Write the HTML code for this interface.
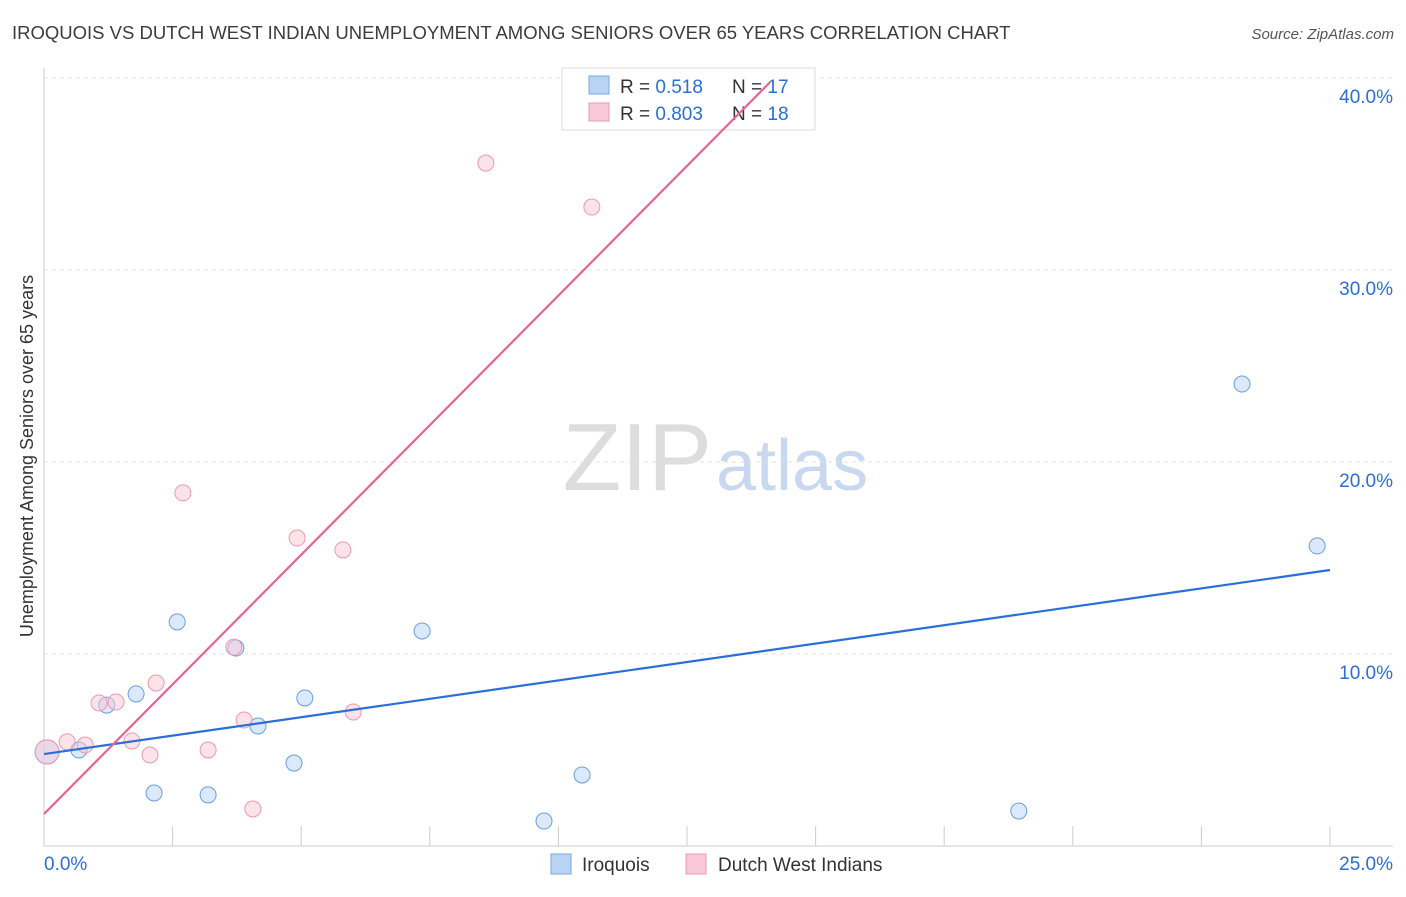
<!DOCTYPE html>
<html><head><meta charset="utf-8"><style>
body{margin:0;background:#fff;font-family:"Liberation Sans",sans-serif;}
svg text{font-family:"Liberation Sans",sans-serif;}
</style></head><body>
<svg id="c" width="1406" height="892">
<text x="12" y="39" font-size="18.5" fill="#3c3c3c">IROQUOIS VS DUTCH WEST INDIAN UNEMPLOYMENT AMONG SENIORS OVER 65 YEARS CORRELATION CHART</text>
<text x="1394" y="39" font-size="15" fill="#555" font-style="italic" text-anchor="end">Source: ZipAtlas.com</text>
<text x="712" y="490" font-size="96" fill="#ddd" text-anchor="end" font-family="Liberation Serif">ZIP</text>
<text x="716" y="490" font-size="72" fill="#c8d8f0">atlas</text>
<text transform="translate(33,456) rotate(-90)" font-size="18" fill="#333" text-anchor="middle">Unemployment Among Seniors over 65 years</text>
<g id="grid"></g>
<g>
<rect x="562" y="68" width="253" height="62" fill="#fff" stroke="#ddd"/>
<rect x="589" y="76" width="20" height="18" fill="#b8d4f5" stroke="#7aa8e0"/>
<rect x="589" y="103" width="20" height="18" fill="#f9c8d6" stroke="#ec98b0"/>
<text x="620" y="93" font-size="19" fill="#333">R = <tspan fill="#2a6fd6"> 0.518</tspan><tspan x="732">N = </tspan><tspan fill="#2a6fd6">17</tspan></text>
<text x="620" y="120" font-size="19" fill="#333">R = <tspan fill="#2a6fd6">0.803</tspan><tspan x="732">N = </tspan><tspan fill="#2a6fd6">18</tspan></text>
</g>
<g id="marks"></g>
<g>
<rect x="551" y="854" width="20" height="20" fill="#b8d4f5" stroke="#7aa8e0"/>
<text x="582" y="871" font-size="19" fill="#333">Iroquois</text>
<rect x="686" y="854" width="20" height="20" fill="#f9c8d6" stroke="#ec98b0"/>
<text x="718" y="871" font-size="19" fill="#333">Dutch West Indians</text>
</g>
</svg>
<script>
const yTicks=[10,20,30,40];
const yTickLabels=["10.0%","20.0%","30.0%","40.0%"];
const xTickLabels=["0.0%","25.0%"];
const iroX=[0.06,0.68,1.22,1.79,2.14,2.59,3.19,3.73,4.16,4.86,5.07,7.35,9.72,10.46,18.95,23.29,24.75];
const iroY=[4.9,5.0,7.34,7.92,2.76,11.67,2.66,10.31,6.25,4.32,7.71,11.2,1.30,3.70,1.82,24.06,15.63];
const dutX=[0.06,0.45,0.80,1.07,1.40,1.71,2.06,2.18,2.70,3.19,3.69,3.89,4.06,4.92,5.81,6.01,8.59,10.65];
const dutY=[4.9,5.42,5.26,7.45,7.5,5.47,4.74,8.49,18.39,5.0,10.36,6.56,1.93,16.04,15.42,6.98,35.57,33.28];
const iroLine=[4.79,14.375];
const dutLine=[1.67,2.70];
const X=v=>44+v*51.44, Y=v=>846-v*19.2;
const NS="http://www.w3.org/2000/svg";
function mk(t,a,p){const e=document.createElementNS(NS,t);for(const k in a)e.setAttribute(k,a[k]);p.appendChild(e);return e;}
const g=document.getElementById('grid'),m=document.getElementById('marks');
yTicks.forEach((t,i)=>{
const l=mk('line',{x1:44,x2:1393,y1:Y(t),y2:Y(t),stroke:'#e2e2e2','stroke-dasharray':'4,4'},g);


const tx=mk('text',{x:1393,y:Y(t)+25,'font-size':19,fill:'#2a6fd6','text-anchor':'end'},g);tx.textContent=yTickLabels[i];


});
mk('line',{x1:44,x2:44,y1:68,y2:846,stroke:'#ccc'},g);
mk('line',{x1:44,x2:1393,y1:846,y2:846,stroke:'#ccc'},g);
for(let i=1;i<=10;i++){const x=X(i*2.5);mk('line',{x1:x,x2:x,y1:826,y2:846,stroke:'#ccc'},g);}
[[0,'start',44],[25,'end',1393]].forEach((a,i)=>{const t=mk('text',{x:a[2],y:870,'font-size':19,fill:'#2a6fd6','text-anchor':a[1]},g);t.textContent=xTickLabels[i];

});
function dots(xs,ys,f,s,name){xs.forEach((x,i)=>{const c=mk('circle',{cx:X(x),cy:Y(ys[i]),r:i==0?12:8,fill:f,'fill-opacity':0.5,stroke:s,'stroke-width':1},m);

});}
dots(iroX,iroY,'#b8d4f5','#6a9ee0','iroquois-point');
dots(dutX,dutY,'#f9c8d6','#ec98b0','dutch-point');
const bl=mk('line',{x1:X(0),y1:Y(iroLine[0]),x2:X(25),y2:Y(iroLine[1]),stroke:'#2a6fd6','stroke-width':2.2},m);


const xe=14.11;
const pl=mk('line',{x1:X(0),y1:Y(dutLine[0]),x2:X(xe),y2:Y(dutLine[0]+dutLine[1]*xe),stroke:'#e8648e','stroke-width':2.2},m);


</script>
</body></html>
